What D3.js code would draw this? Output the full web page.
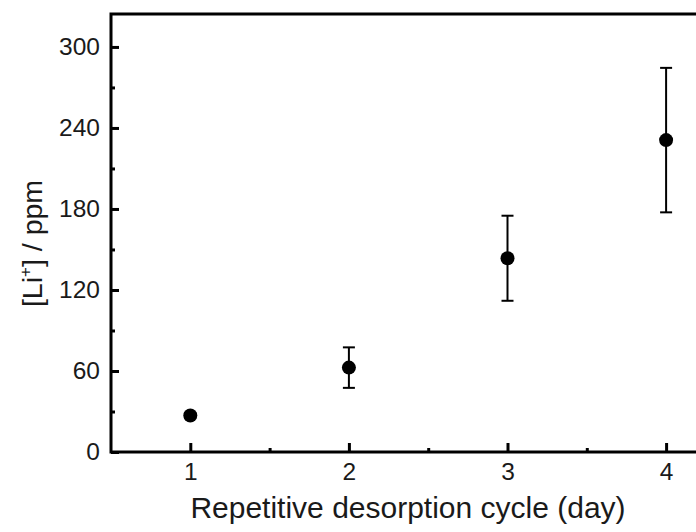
<!DOCTYPE html>
<html>
<head>
<meta charset="utf-8">
<script src="https://cdn.jsdelivr.net/npm/d3@7"></script>
<style>
  html, body { margin: 0; padding: 0; background: #fff; }
  svg { display: block; font-family: "Liberation Sans", Arial, sans-serif; }
</style>
</head>
<body>
<svg id="chart" width="696" height="532"></svg>
<script>
// Desorption cycle results: Li+ concentration with standard deviation
const cycles = [1, 2, 3, 4];
const liConc = [27, 62.5, 143.5, 231];
const liErr = [2, 15, 31.5, 53.5];

const xTicks = [1, 2, 3, 4];
const xMinor = [1.5, 2.5, 3.5];
const yTicks = [0, 60, 120, 180, 240, 300];
const yMinor = [30, 90, 150, 210, 270];

const svg = d3.select("#chart");
const plotLeft = 111, plotTop = 14, plotBottom = 452;
const yMax = 324.4;

const x = d3.scaleLinear().domain([0.5, 4.5]).range([plotLeft, plotLeft + 4 * 158.6]);
const y = d3.scaleLinear().domain([0, yMax]).range([plotBottom, plotTop]);

const g = svg.append("g");

// frame (right edge runs past the canvas)
g.append("rect")
  .attr("x", x(0.5)).attr("y", y(yMax))
  .attr("width", x(4.5) - x(0.5)).attr("height", y(0) - y(yMax))
  .attr("fill", "none").attr("stroke", "#000").attr("stroke-width", 3);

// left axis, ticks pointing inward
const yAxis = d3.axisLeft(y).tickValues(yTicks).tickSizeInner(-8).tickSizeOuter(0).tickPadding(11);
const ya = g.append("g").attr("transform", `translate(${x(0.5)},0)`).call(yAxis);
ya.select(".domain").remove();
ya.selectAll(".tick line").attr("stroke-width", 3);
ya.selectAll(".tick text").attr("font-size", 24.5).attr("fill", "#1a1a1a");

const yAxisMinor = d3.axisLeft(y).tickValues(yMinor).tickSizeInner(-4).tickSizeOuter(0).tickFormat("");
const yam = g.append("g").attr("transform", `translate(${x(0.5)},0)`).call(yAxisMinor);
yam.select(".domain").remove();
yam.selectAll(".tick line").attr("stroke-width", 3);

// bottom axis
const xAxis = d3.axisBottom(x).tickValues(xTicks).tickFormat(d3.format("d")).tickSizeInner(-9).tickSizeOuter(0).tickPadding(11);
const xa = g.append("g").attr("transform", `translate(0,${y(0)})`).call(xAxis);
xa.select(".domain").remove();
xa.selectAll(".tick line").attr("stroke-width", 3);
xa.selectAll(".tick text").attr("font-size", 24.5).attr("fill", "#1a1a1a");

const xAxisMinor = d3.axisBottom(x).tickValues(xMinor).tickSizeInner(-4).tickSizeOuter(0).tickFormat("");
const xam = g.append("g").attr("transform", `translate(0,${y(0)})`).call(xAxisMinor);
xam.select(".domain").remove();
xam.selectAll(".tick line").attr("stroke-width", 3);

// error bars
const data = cycles.map((c, i) => ({ c, v: liConc[i], e: liErr[i] }));
const eb = g.append("g").attr("stroke", "#000").attr("stroke-width", 2);
eb.selectAll("line.stem").data(data).join("line").attr("class", "stem")
  .attr("x1", d => x(d.c)).attr("x2", d => x(d.c))
  .attr("y1", d => y(d.v - d.e)).attr("y2", d => y(d.v + d.e));
eb.selectAll("line.capTop").data(data).join("line").attr("class", "capTop")
  .attr("x1", d => x(d.c) - 6).attr("x2", d => x(d.c) + 6)
  .attr("y1", d => y(d.v + d.e)).attr("y2", d => y(d.v + d.e));
eb.selectAll("line.capBot").data(data).join("line").attr("class", "capBot")
  .attr("x1", d => x(d.c) - 6).attr("x2", d => x(d.c) + 6)
  .attr("y1", d => y(d.v - d.e)).attr("y2", d => y(d.v - d.e));

// points
g.append("g").selectAll("circle").data(data).join("circle")
  .attr("cx", d => x(d.c)).attr("cy", d => y(d.v)).attr("r", 7).attr("fill", "#000");

// axis titles
svg.append("text")
  .attr("x", 408).attr("y", 518)
  .attr("text-anchor", "middle").attr("font-size", 30).attr("fill", "#1a1a1a")
  .text("Repetitive desorption cycle (day)");

const yt = svg.append("text")
  .attr("transform", "translate(42,243.5) rotate(-90)")
  .attr("text-anchor", "middle").attr("font-size", 28.5).attr("fill", "#1a1a1a");
yt.append("tspan").text("[Li");
yt.append("tspan").attr("font-size", 17).attr("dy", -11).text("+");
yt.append("tspan").attr("dy", 11).text("] / ppm");
</script>
</body>
</html>
